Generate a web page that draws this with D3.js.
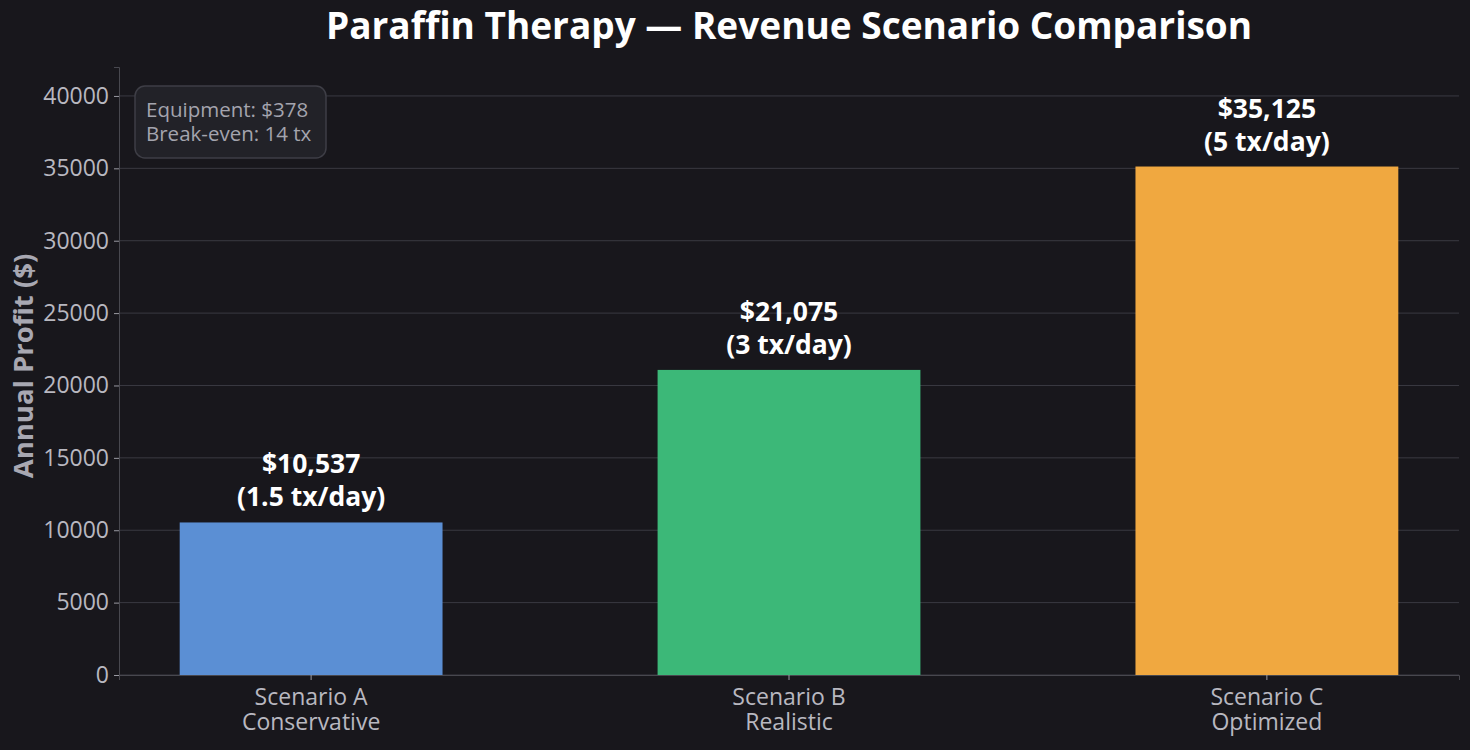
<!DOCTYPE html>
<html>
<head>
<meta charset="utf-8">
<script src="https://cdn.jsdelivr.net/npm/d3@7"></script>
<style>
  html, body { margin: 0; padding: 0; background: #18171c; }
  svg { display: block; }
  text { font-family: "Open Sans", "Noto Sans", sans-serif; }
</style>
</head>
<body>
<script>
const scenarios = ["Scenario A", "Scenario B", "Scenario C"];
const subtitles = ["Conservative", "Realistic", "Optimized"];
const profits = [10537, 21075, 35125];
const txPerDay = ["1.5", "3", "5"];
const barColors = ["#5b8fd4", "#3cb878", "#f0a840"];
const yTicks = [0, 5000, 10000, 15000, 20000, 25000, 30000, 35000, 40000];
const notes = ["Equipment: $378", "Break-even: 14 tx"];

const width = 1470, height = 750;
const margin = {top: 67, right: 11, bottom: 75, left: 119};

const svg = d3.select("body").append("svg")
    .attr("width", width)
    .attr("height", height);

svg.append("rect").attr("width", width).attr("height", height).attr("fill", "#18171c");

const x = d3.scaleBand()
    .domain(scenarios)
    .range([margin.left, width - margin.right])
    .paddingInner(0.45)
    .paddingOuter(0.127);

const y = d3.scaleLinear()
    .domain([0, 42000])
    .range([height - margin.bottom, margin.top]);

// grid
svg.append("g")
  .selectAll("line")
  .data(yTicks)
  .join("line")
    .attr("x1", margin.left)
    .attr("x2", width - margin.right)
    .attr("y1", d => y(d))
    .attr("y2", d => y(d))
    .attr("stroke", "#3a3a42")
    .attr("stroke-width", 1);

// bars
svg.append("g")
  .selectAll("rect")
  .data(profits)
  .join("rect")
    .attr("x", (d, i) => x(scenarios[i]))
    .attr("y", d => y(d))
    .attr("width", x.bandwidth())
    .attr("height", d => y(0) - y(d))
    .attr("fill", (d, i) => barColors[i]);

// y axis
const yAxis = svg.append("g")
    .attr("transform", `translate(${margin.left},0)`)
    .call(d3.axisLeft(y).tickValues(yTicks).tickFormat(d3.format("d")).tickSize(5).tickPadding(5));
yAxis.select(".domain").attr("stroke", "#48484f");
yAxis.selectAll(".tick line").attr("stroke", "#9a9aa2");
yAxis.selectAll(".tick text")
    .attr("fill", "#b8b8c0")
    .style("font-size", "23px");

// x axis
const xAxis = svg.append("g")
    .attr("transform", `translate(0,${height - margin.bottom})`)
    .call(d3.axisBottom(x).tickSize(5).tickFormat(() => ""));
xAxis.select(".domain").attr("stroke", "#48484f");
xAxis.selectAll(".tick line").attr("stroke", "#9a9aa2");
xAxis.selectAll(".tick").each(function(d, i) {
  const t = d3.select(this).append("text")
      .attr("fill", "#b8b8c0")
      .attr("text-anchor", "middle")
      .style("font-size", "23px");
  t.append("tspan").attr("x", 0).attr("y", 30).text(scenarios[i]);
  t.append("tspan").attr("x", 0).attr("y", 55).text(subtitles[i]);
});

// value labels
const labels = svg.append("g")
  .selectAll("g")
  .data(profits)
  .join("g")
    .attr("transform", (d, i) => `translate(${x(scenarios[i]) + x.bandwidth() / 2},${y(d)})`);
labels.append("text")
    .attr("y", -49)
    .attr("text-anchor", "middle")
    .attr("fill", "#ffffff")
    .attr("font-weight", "bold")
    .style("font-size", "26.5px")
    .text(d => "$" + d3.format(",")(d));
labels.append("text")
    .attr("y", -16)
    .attr("text-anchor", "middle")
    .attr("fill", "#ffffff")
    .attr("font-weight", "bold")
    .style("font-size", "26.5px")
    .text((d, i) => `(${txPerDay[i]} tx/day)`);

// y label
svg.append("text")
    .attr("transform", `translate(33,${(margin.top + height - margin.bottom) / 2 - 5}) rotate(-90)`)
    .attr("text-anchor", "middle")
    .attr("fill", "#a8a8b2")
    .attr("font-weight", "bold")
    .style("font-size", "27.5px")
    .text("Annual Profit ($)");

// title
svg.append("text")
    .attr("x", 789)
    .attr("y", 39)
    .attr("text-anchor", "middle")
    .attr("fill", "#ffffff")
    .attr("font-weight", "bold")
    .style("font-size", "37px")
    .text("Paraffin Therapy \u2014 Revenue Scenario Comparison");

// info box
const box = svg.append("g");
box.append("rect")
    .attr("x", 135).attr("y", 86)
    .attr("width", 191).attr("height", 72)
    .attr("rx", 10)
    .attr("fill", "#222228")
    .attr("stroke", "#3e3e46")
    .attr("stroke-width", 1.5);
box.selectAll("text")
  .data(notes)
  .join("text")
    .attr("x", 146)
    .attr("y", (d, i) => 117 + i * 24)
    .attr("fill", "#a4a4ae")
    .style("font-size", "20.5px")
    .text(d => d);
</script>
</body>
</html>
